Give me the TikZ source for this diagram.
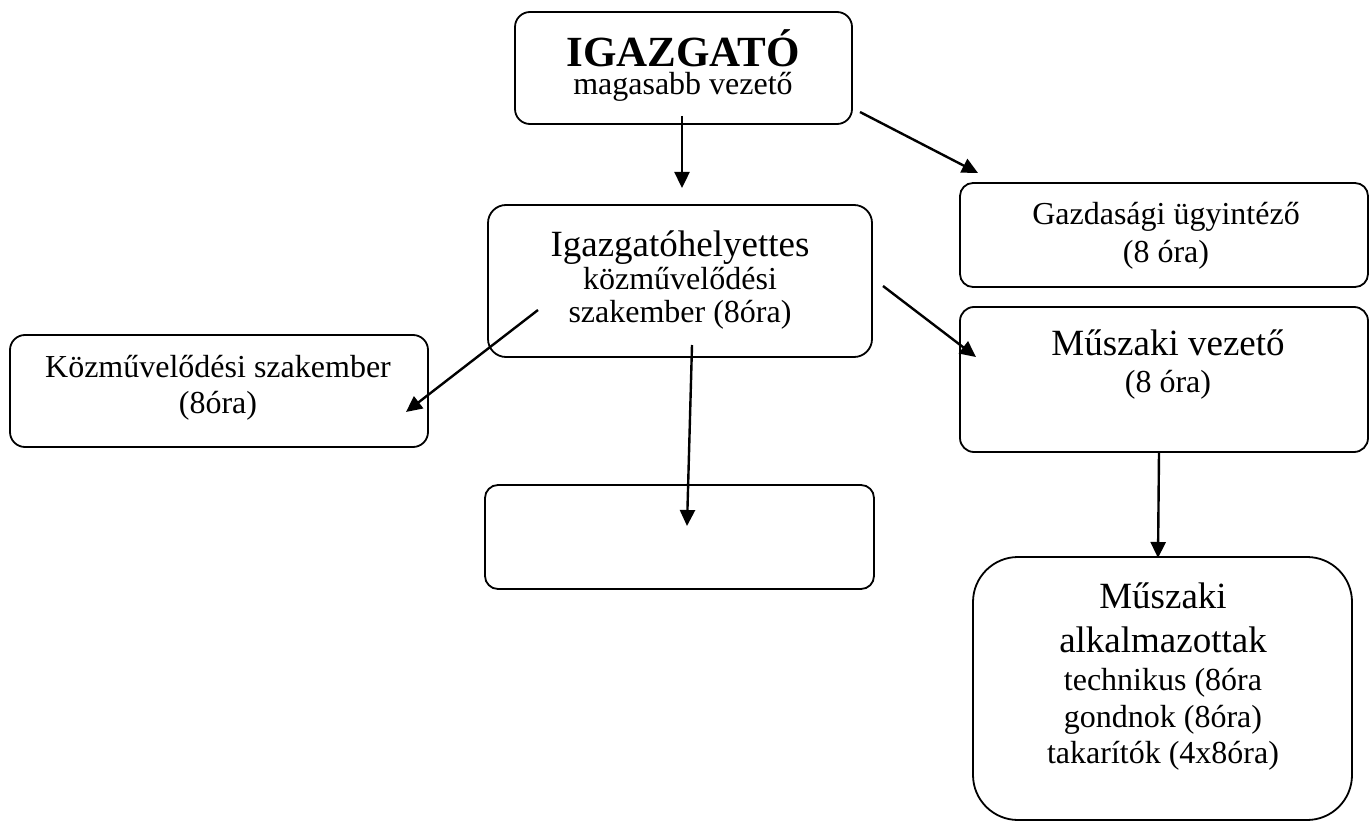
\documentclass[tikz,border=0pt]{standalone}
\usepackage{fontspec}
\setmainfont{Liberation Serif}
\usetikzlibrary{arrows.meta}
\begin{document}
\begin{tikzpicture}[x=1pt,y=-1pt,
  orgbox/.style={draw, line width=1.8pt, inner sep=0pt},
  orgtext/.style={align=center, inner sep=0pt, anchor=base},
  orgarrow/.style={line width=2.4pt, -{Triangle[length=16pt,width=15pt]}}]
\useasboundingbox (0,0) rectangle (1370,821);
% boxes
\node[orgbox, rounded corners=15pt, minimum width=337pt, minimum height=112pt] (igazgato) at (683.5,68) {};
\node[orgbox, rounded corners=18pt, minimum width=384pt, minimum height=152pt] (igh) at (680,281) {};
\node[orgbox, rounded corners=13pt, minimum width=408pt, minimum height=104pt] (gazd) at (1164,235) {};
\node[orgbox, rounded corners=14pt, minimum width=408pt, minimum height=145pt] (muszv) at (1164,379.5) {};
\node[orgbox, rounded corners=15pt, minimum width=418pt, minimum height=112pt] (kozm) at (219,391) {};
\node[orgbox, rounded corners=13pt, minimum width=389pt, minimum height=104pt] (ures) at (679.5,537) {};
\node[orgbox, rounded corners=45pt, minimum width=379pt, minimum height=263pt] (muszalk) at (1162.5,688.5) {};
% texts
\node[orgtext, font=\fontsize{32}{28}\selectfont] (igazgato-t) at (683,95)
  {{\fontsize{43}{28}\selectfont\bfseries IGAZGATÓ}\\magasabb vezető};
\node[orgtext, font=\fontsize{32}{33}\selectfont] (igh-t) at (680,322)
  {{\fontsize{37}{33}\selectfont Igazgatóhelyettes}\\közművelődési\\szakember (8óra)};
\node[orgtext, font=\fontsize{32}{38}\selectfont] (gazd-t) at (1166,262)
  {Gazdasági ügyintéző\\(8 óra)};
\node[orgtext, font=\fontsize{32}{37}\selectfont] (muszv-t) at (1168,392)
  {{\fontsize{37}{37}\selectfont Műszaki vezető}\\(8 óra)};
\node[orgtext, font=\fontsize{32}{36}\selectfont] (kozm-t) at (218,413)
  {Közművelődési szakember\\(8óra)};
\node[orgtext, font=\fontsize{32}{37}\selectfont] (muszalk-t) at (1163,763)
  {{\fontsize{37}{37}\selectfont Műszaki}\\[7pt]{\fontsize{37}{37}\selectfont alkalmazottak}\\[1pt]technikus (8óra\\gondnok (8óra)\\[-1pt]takarítók (4x8óra)};
% arrow end points
\coordinate (a1s) at (682,116); \coordinate (a1e) at (682,188);
\coordinate (a2s) at (860,112); \coordinate (a2e) at (978,173);
\coordinate (a3s) at (538,310); \coordinate (a3e) at (406,412);
\coordinate (a4s) at (883,286); \coordinate (a4e) at (976,357);
\coordinate (a5s) at (692,345); \coordinate (a5e) at (687,526);
\coordinate (a6s) at (1159,452); \coordinate (a6e) at (1158,558);
\draw[orgarrow] (a1s) -- (a1e);
\draw[orgarrow] (a2s) -- (a2e);
\draw[orgarrow] (a3s) -- (a3e);
\draw[orgarrow] (a4s) -- (a4e);
\draw[orgarrow] (a5s) -- (a5e);
\draw[orgarrow] (a6s) -- (a6e);
\end{tikzpicture}
\end{document}
